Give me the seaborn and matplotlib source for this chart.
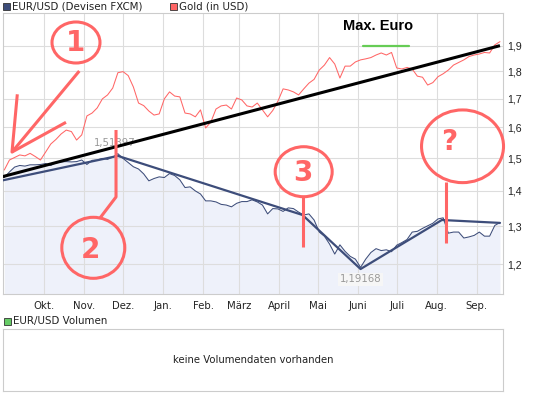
import numpy as np
import pandas as pd
import matplotlib
matplotlib.use('Agg')
import matplotlib.pyplot as plt
from matplotlib.patches import Ellipse, Rectangle
from matplotlib.ticker import FixedLocator, FixedFormatter, NullLocator
import seaborn as sns

# data (one point every 4 days)
start_date = '2009-08-31'
eurusd = [1.440, 1.457, 1.472, 1.477, 1.475, 1.479, 1.479, 1.480, 1.483, 1.477,
          1.485, 1.488, 1.489, 1.488, 1.489, 1.494, 1.480, 1.493, 1.494, 1.499,
          1.496, 1.503, 1.514, 1.499, 1.486, 1.473, 1.466, 1.451, 1.430, 1.437,
          1.442, 1.440, 1.452, 1.446, 1.433, 1.410, 1.412, 1.400, 1.391, 1.371,
          1.371, 1.368, 1.361, 1.359, 1.354, 1.364, 1.369, 1.369, 1.374, 1.368,
          1.359, 1.334, 1.349, 1.348, 1.341, 1.351, 1.349, 1.339, 1.331, 1.334,
          1.317, 1.284, 1.273, 1.252, 1.226, 1.250, 1.233, 1.220, 1.213, 1.192,
          1.213, 1.230, 1.240, 1.235, 1.237, 1.232, 1.249, 1.256, 1.264, 1.284,
          1.286, 1.294, 1.301, 1.308, 1.320, 1.323, 1.281, 1.284, 1.284, 1.268,
          1.271, 1.275, 1.284, 1.273, 1.273, 1.302, 1.310]
gold = [1.463, 1.494, 1.502, 1.510, 1.507, 1.515, 1.505, 1.494, 1.519, 1.545,
        1.560, 1.578, 1.591, 1.586, 1.558, 1.575, 1.639, 1.649, 1.667, 1.699,
        1.713, 1.738, 1.795, 1.799, 1.784, 1.742, 1.684, 1.675, 1.656, 1.642,
        1.646, 1.699, 1.724, 1.709, 1.706, 1.649, 1.646, 1.636, 1.660, 1.598,
        1.618, 1.663, 1.674, 1.677, 1.663, 1.702, 1.695, 1.674, 1.670, 1.684,
        1.660, 1.636, 1.658, 1.691, 1.735, 1.731, 1.724, 1.713, 1.735, 1.756,
        1.770, 1.805, 1.824, 1.853, 1.828, 1.775, 1.820, 1.820, 1.836, 1.844,
        1.848, 1.853, 1.863, 1.871, 1.863, 1.873, 1.813, 1.809, 1.815, 1.809,
        1.782, 1.778, 1.749, 1.758, 1.780, 1.791, 1.805, 1.824, 1.834, 1.844,
        1.857, 1.863, 1.867, 1.873, 1.871, 1.903, 1.916]
high_label = '1,51397'
low_label = '1,19168'

# hand drawn trend lines
black_dates = ['2009-08-29', '2010-09-19']
black_vals = [1.442, 1.900]
trend_dates = ['2009-08-28', '2009-11-27', '2010-04-19', '2010-06-03', '2010-08-05', '2010-09-19']
trend_vals = [1.430, 1.507, 1.331, 1.188, 1.317, 1.309]

month_labels = ['Okt.', 'Nov.', 'Dez.', 'Jan.', 'Feb.', 'März', 'April',
                'Mai', 'Juni', 'Juli', 'Aug.', 'Sep.']
y_ticks = [1.2, 1.3, 1.4, 1.5, 1.6, 1.7, 1.8, 1.9]
y_labels = ['1,2', '1,3', '1,4', '1,5', '1,6', '1,7', '1,8', '1,9']

NAVY = '#3d4d7a'
RED = '#ff6666'
GRID = '#dddddd'

sns.set_theme(style='white')
plt.rcParams['font.family'] = ['DejaVu Sans']

dates = pd.date_range(start_date, periods=len(eurusd), freq='4D')
df = pd.DataFrame({'date': dates, 'eur': eurusd, 'gold': gold})

W, H = 545, 395
fig = plt.figure(figsize=(W / 100, H / 100), dpi=100)
ax = fig.add_axes([3 / W, 1 - 293.9 / H, 500.3 / W, 280.9 / H])

ax.set_yscale('log')
ymin, ymax = 1.1275, 2.035
ax.set_ylim(ymin, ymax)
ax.set_xlim(pd.Timestamp('2009-08-30'), pd.Timestamp('2010-09-21 14:00'))

ax.fill_between(df['date'], df['eur'], ymin, color='#eef1fa', lw=0, zorder=1)
sns.lineplot(data=df, x='date', y='gold', ax=ax, color=RED, lw=0.75, zorder=3)
sns.lineplot(data=df, x='date', y='eur', ax=ax, color=NAVY, lw=0.75, zorder=3)

ax.plot(pd.to_datetime(black_dates), black_vals, color='black', lw=2.2,
        solid_capstyle='butt', zorder=4)
ax.plot(pd.to_datetime(trend_dates), trend_vals, color=NAVY, lw=1.6, zorder=4)

# high / low labels
imax, imin = int(np.argmax(eurusd)), int(np.argmin(eurusd))
ax.annotate(high_label, xy=(dates[imax], eurusd[imax]), xytext=(-3, 11),
            textcoords='offset pixels', ha='center', va='center', fontsize=7.3,
            color='#999999', zorder=2)
ax.annotate(low_label, xy=(dates[imin], eurusd[imin]), xytext=(0, -12),
            textcoords='offset pixels', ha='center', va='center', fontsize=7.3,
            color='#999999', zorder=2,
            bbox=dict(boxstyle='square,pad=0.15', fc='#f6f6f6', ec='none'))

# axes styling
ax.yaxis.set_major_locator(FixedLocator(y_ticks))
ax.yaxis.set_major_formatter(FixedFormatter(y_labels))
ax.yaxis.set_minor_locator(NullLocator())
ax.yaxis.tick_right()
ax.set_xticks(pd.date_range('2009-10-01', periods=12, freq='MS'))
ax.set_xticklabels(month_labels)
ax.tick_params(axis='y', length=0, pad=3, labelsize=7.7, labelcolor='#222222')
ax.tick_params(axis='x', length=0, pad=5, labelsize=7.3, labelcolor='#222222')
for t in ax.get_yticklabels():
    t.set_family('Liberation Sans')
ax.set_xlabel('')
ax.set_ylabel('')
ax.grid(True, color=GRID, lw=0.8)
ax.set_axisbelow('line')
for s in ax.spines.values():
    s.set_color('#cccccc')
    s.set_linewidth(0.8)

# hand drawn annotations (axes fraction)
tr = ax.transAxes
circ = dict(fill=False, ec=RED, lw=2.2, transform=tr, clip_on=False, zorder=6)
num = dict(transform=tr, ha='center', va='center', color=RED, fontsize=20,
           fontweight='bold', zorder=6)
line = dict(color=RED, lw=2.2, transform=tr, clip_on=False, zorder=6,
            solid_capstyle='butt')

ax.add_patch(Ellipse((0.1459, 0.895), 0.0959, 0.146, **circ))
ax.text(0.1459, 0.892, '1', **num)
ax.plot([0.0286, 0.018, 0.1525], [0.7106, 0.505, 0.7935], **line)
ax.plot([0.018, 0.1259], [0.505, 0.6109], **line)

ax.add_patch(Ellipse((0.1805, 0.1641), 0.1259, 0.2172, **circ))
ax.text(0.1739, 0.158, '2', **num)
ax.plot([0.1939, 0.2259, 0.2259], [0.2702, 0.345, 0.5835], **line)

ax.add_patch(Ellipse((0.601, 0.435), 0.1139, 0.178, **circ))
ax.text(0.5996, 0.432, '3', **num)
ax.plot([0.599, 0.599], [0.346, 0.168], **line)

ax.add_patch(Ellipse((0.9185, 0.5255), 0.1639, 0.2588, **circ))
ax.text(0.8915, 0.54, '?', **num)
ax.plot([0.8849, 0.8849], [0.3994, 0.1801], **line)

ax.plot([0.7202, 0.8121], [0.8825, 0.8825], color='#66cc55', lw=1.6,
        transform=tr, zorder=6)
ax.text(0.7502, 0.9537, 'Max. Euro', transform=tr, ha='center', va='center',
        fontsize=10.5, fontweight='bold', family='Liberation Sans', color='black')

# legend line on top
def legend_item(x, y, color, label):
    fig.patches.append(Rectangle((x / W, 1 - (y + 3.5) / H), 7 / W, 7 / H,
                                 transform=fig.transFigure, fc=color,
                                 ec='#333333', lw=0.6))
    fig.text((x + 9.5) / W, 1 - y / H, label, ha='left', va='center',
             fontsize=7.4, color='#222222')

legend_item(3, 6.5, NAVY, 'EUR/USD (Devisen FXCM)')
legend_item(169.5, 6.5, RED, 'Gold (in USD)')
legend_item(3.5, 321, '#66cc66', 'EUR/USD Volumen')

# empty volume panel
vax = fig.add_axes([3 / W, 1 - 390.5 / H, 500.3 / W, 61.9 / H])
vax.set_xticks([])
vax.set_yticks([])
for s in vax.spines.values():
    s.set_color('#cccccc')
    s.set_linewidth(0.8)
vax.text(0.5, 0.5, 'keine Volumendaten vorhanden', transform=vax.transAxes,
         ha='center', va='center', fontsize=7.3, color='#222222')

fig.savefig('out.png', dpi=100)
